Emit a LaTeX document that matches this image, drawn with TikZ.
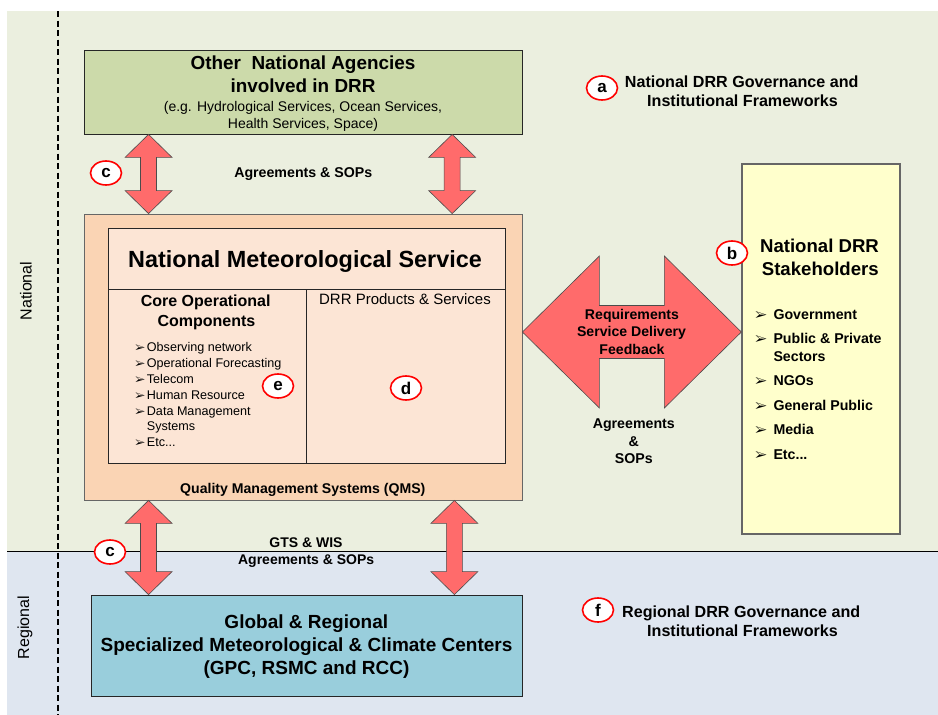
\documentclass[tikz,border=0pt]{standalone}
\usepackage{fontspec}
\usepackage{pifont}
\setmainfont{Liberation Sans}
\usetikzlibrary{calc,shapes.geometric}

\definecolor{natbg}{HTML}{EBEFDF}
\definecolor{regbg}{HTML}{DFE6F0}
\definecolor{agencygreen}{HTML}{CCDAAA}
\definecolor{nmspeach}{HTML}{FAD4B4}
\definecolor{nmslight}{HTML}{FCE5D5}
\definecolor{stakeyellow}{HTML}{FFFFCC}
\definecolor{centreblue}{HTML}{99CEDC}
\definecolor{arrowred}{HTML}{FF6B6B}

\newcommand\fs[1]{\fontsize{#1}{#1}\selectfont}
\newcommand\bul[1]{{\fs{#1}\ding{226}}}
\newcommand\etc{Etc...}
% fat double arrows (vertical / horizontal) between two points
\newcommand\vfat[2]{\draw[fatarrow] let \p1=#1, \p2=#2 in (\x1,\y1) -- (\x1+23.5pt,\y1-23pt) -- (\x1+8pt,\y1-23pt) -- (\x1+8pt,\y2+23pt) -- (\x1+23.5pt,\y2+23pt) -- (\x1,\y2) -- (\x1-23.5pt,\y2+23pt) -- (\x1-8pt,\y2+23pt) -- (\x1-8pt,\y1-23pt) -- (\x1-23.5pt,\y1-23pt) -- cycle;}
\newcommand\hfat[2]{\draw[fatarrow] let \p1=#1, \p2=#2 in (\x1,\y1) -- (\x1+77pt,\y1+76pt) -- (\x1+77pt,\y1+26.5pt) -- (\x2-77pt,\y1+26.5pt) -- (\x2-77pt,\y1+76pt) -- (\x2,\y1) -- (\x2-77pt,\y1-76pt) -- (\x2-77pt,\y1-26.5pt) -- (\x1+77pt,\y1-26.5pt) -- (\x1+77pt,\y1-76pt) -- cycle;}

\begin{document}
\begin{tikzpicture}[x=1pt,y=-1pt,
	box/.style={draw=black!85,line width=0.8pt,inner sep=0pt},
	txt/.style={anchor=base,align=center,inner sep=0pt},
	tag/.style={ellipse,draw=red,line width=1.6pt,fill=white,minimum width=31,minimum height=24,inner sep=0pt,font=\bfseries\fs{17}},
	fatarrow/.style={fill=arrowred,draw=black!70,line width=0.6pt},
	levelline/.style={line width=1.4pt,dash pattern=on 6pt off 3.5pt}]
	\useasboundingbox (0,0) rectangle (938,715);
	%BACKGROUND
	\fill[natbg] (7,11) rectangle (938,551);
	\fill[regbg] (7,551) rectangle (938,715);
	\draw[line width=0.8pt] (7,551) -- (938,551);
	\draw[levelline] (58,11) -- (58,715);
	\node[txt,rotate=90,font=\fs{16}] (national) at (31.7,291) {National};
	\node[txt,rotate=90,font=\fs{16}] (regional) at (29,627.5) {Regional};
	
	%BOXES
	\node[box,fill=agencygreen,minimum width=438,minimum height=84] (agencies) at (303,92) {};
	\node[box,fill=nmspeach,draw=black!60,minimum width=438,minimum height=286] (nms) at (303,357) {};
	\node[box,fill=nmslight,minimum width=397,minimum height=61] (nmshead) at (306.5,258.5) {};
	\node[box,fill=nmslight,minimum width=198,minimum height=174] (core) at (207,376) {};
	\node[box,fill=nmslight,minimum width=199,minimum height=174] (drr) at (405.5,376) {};
	\node[box,fill=stakeyellow,draw=black!60,line width=1.3pt,minimum width=158,minimum height=370] (stake) at (821,349) {};
	\node[box,fill=centreblue,minimum width=431,minimum height=101] (gpc) at (306.5,645.5) {};
	
	%ARROWS
	\coordinate (tl) at ($(agencies.south west)!.148!(agencies.south east)$);
	\coordinate (tr) at ($(agencies.south west)!.84!(agencies.south east)$);
	\coordinate (bl) at ($(nms.south west)!.148!(nms.south east)$);
	\coordinate (br) at ($(nms.south west)!.845!(nms.south east)$);
	\coordinate (hl) at ([yshift=25pt]nms.east);
	\vfat{(tl)}{(tl |- nms.north)}
	\vfat{(tr)}{(tr |- nms.north)}
	\vfat{(bl)}{(bl |- gpc.north)}
	\vfat{(br)}{(br |- gpc.north)}
	\hfat{(hl)}{(hl -| stake.west)}
	
	%LABELS
	\node[txt,font=\bfseries\fs{18.9}] (agt1) at (303,69.3) {Other\ \ National Agencies};
	\node[txt,font=\bfseries\fs{18.9}] (agt2) at (303,92.3) {involved in DRR};
	\node[txt,font=\fs{14}] (agt3) at (303,111) {(e.g. Hydrological Services, Ocean Services,};
	\node[txt,font=\fs{14}] (agt4) at (303,128.3) {Health Services, Space)};
	\node[txt,font=\bfseries\fs{14.2}] (agree1) at (303.3,177.3) {Agreements \& SOPs};
	%
	\node[txt,font=\bfseries\fs{23.4}] (nmstitle) at (305,267.3) {National Meteorological Service};
	\node[txt,font=\bfseries\fs{16}] (coret1) at (205.7,306) {Core Operational};
	\node[txt,font=\bfseries\fs{16}] (coret2) at (206.5,326) {Components};
	\node[txt,font=\fs{15}] (drrt) at (405,304.3) {DRR Products \& Services};
	\foreach \t/\y/\k [count=\i] in {Observing network/351.3/1,Operational Forecasting/367.3/1,Telecom/383.3/1,Human Resource/399.3/1,Data Management/415.3/1,Systems/430.7/0,\etc/446.7/1}{
		\node[txt,anchor=base west,font=\fs{12.6}] (coreitem\i) at (146.7,\y) {\t};
		\ifnum\k=1 \node[txt,anchor=base west] (corebul\i) at (135,\y) {\bul{11}}; \fi
	}
	\node[txt,font=\bfseries\fs{14.1}] (qms) at (302.8,493.3) {Quality Management Systems (QMS)};
	%
	\node[txt,font=\bfseries\fs{16.1}] (govt1) at (741.7,87.3) {National DRR Governance and};
	\node[txt,font=\bfseries\fs{16.1}] (govt2) at (742.5,106) {Institutional Frameworks};
	\node[txt,font=\bfseries\fs{18.6}] (staket1) at (819.5,252.3) {National DRR};
	\node[txt,font=\bfseries\fs{18.6}] (staket2) at (820.3,275) {Stakeholders};
	\foreach \t/\y/\k [count=\i] in {Government/319.3/1,Public \& Private/343.3/1,Sectors/361/0,NGOs/385.3/1,General Public/410.3/1,Media/434.3/1,\etc/459/1}{
		\node[txt,anchor=base west,font=\bfseries\fs{14.2}] (stakeitem\i) at (773.3,\y) {\t};
		\ifnum\k=1 \node[txt,anchor=base west] (stakebul\i) at (755,\y) {\bul{13}}; \fi
	}
	\node[txt,font=\bfseries\fs{14.1}] (req1) at (632,319.3) {Requirements};
	\node[txt,font=\bfseries\fs{14.1}] (req2) at (631.5,336.7) {Service Delivery};
	\node[txt,font=\bfseries\fs{14.1}] (req3) at (632,354) {Feedback};
	\node[txt,font=\bfseries\fs{14.2}] (agree2a) at (633.8,428.7) {Agreements};
	\node[txt,font=\bfseries\fs{14.2}] (agree2b) at (633.8,446.7) {\&};
	\node[txt,font=\bfseries\fs{14.2}] (agree2c) at (633.8,463.3) {SOPs};
	%
	\node[txt,font=\bfseries\fs{14}] (gts) at (306,547.3) {GTS \& WIS};
	\node[txt,font=\bfseries\fs{14}] (agree3) at (306.2,564) {Agreements \& SOPs};
	\node[txt,font=\bfseries\fs{19}] (gpct1) at (306.3,628.3) {Global \& Regional};
	\node[txt,font=\bfseries\fs{19}] (gpct2) at (306.5,651.7) {Specialized Meteorological \& Climate Centers};
	\node[txt,font=\bfseries\fs{19}] (gpct3) at (306.5,674) {(GPC, RSMC and RCC)};
	\node[txt,font=\bfseries\fs{16.1}] (regt1) at (741.2,617.3) {Regional DRR Governance and};
	\node[txt,font=\bfseries\fs{16.1}] (regt2) at (742.5,636.7) {Institutional Frameworks};
	
	%TAGS
	\node[tag] (taga) at (602,88) {a};
	\node[tag] (tagb) at (732,253) {b};
	\node[tag] (tagc1) at (106,173) {c};
	\node[tag] (tagc2) at (110,552) {c};
	\node[tag] (tagd) at (406,388) {d};
	\node[tag] (tage) at (278,386) {e};
	\node[tag] (tagf) at (598,610) {f};
\end{tikzpicture}
\end{document}
